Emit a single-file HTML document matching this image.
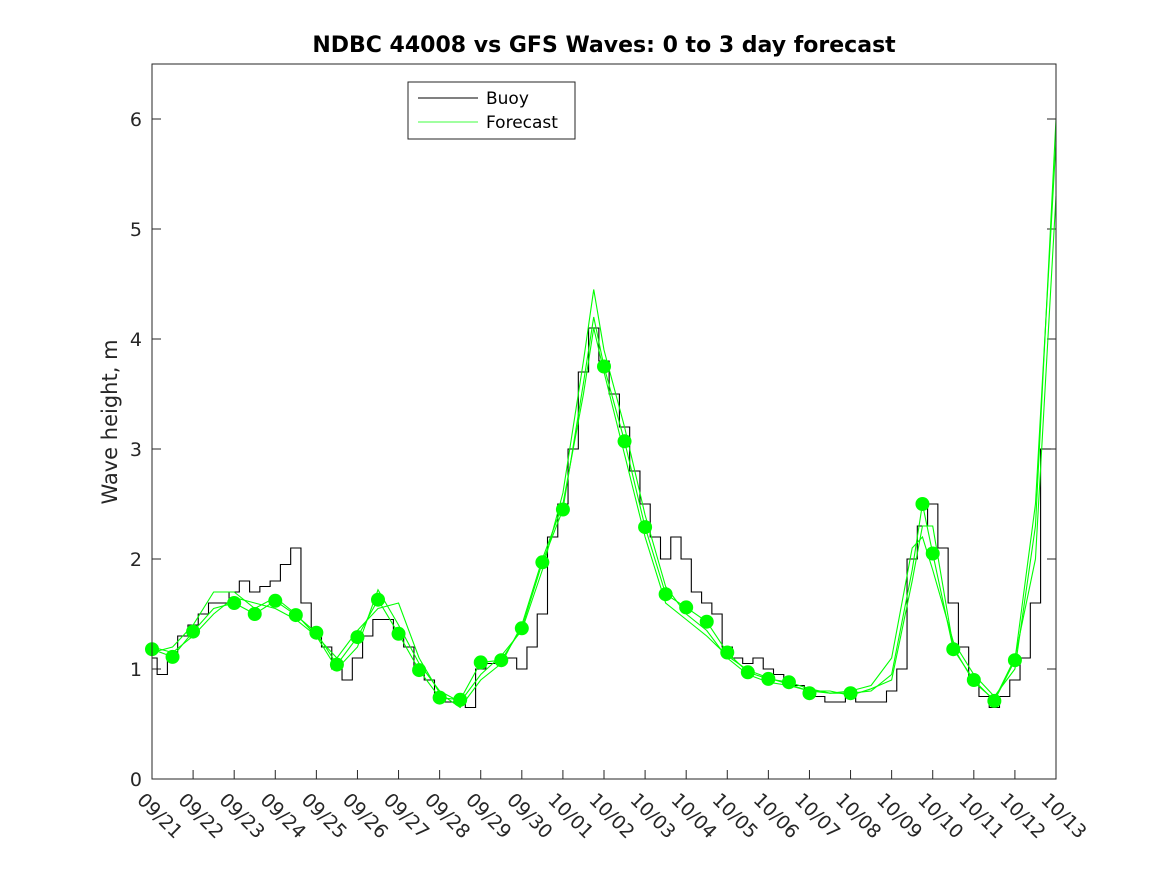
<!DOCTYPE html>
<html><head><meta charset="utf-8"><style>
body{margin:0;background:#fff;}
svg text{font-family:"DejaVu Sans","Liberation Sans",sans-serif;}
</style></head><body>
<svg id="c" width="1167" height="875" xmlns="http://www.w3.org/2000/svg">
<rect width="1167" height="875" fill="#fff"/>
<text x="604" y="52" text-anchor="middle" font-size="22" font-weight="bold" fill="#000">NDBC 44008 vs GFS Waves: 0 to 3 day forecast</text>
<text transform="translate(117,422) rotate(-90)" text-anchor="middle" font-size="21" fill="#262626">Wave height, m</text>
<g id="plot"></g>
<rect x="152" y="64" width="904" height="715" fill="none" stroke="#262626" stroke-width="1"/>
<g>
<rect x="408" y="82" width="167" height="57" fill="#fff" stroke="#262626"/>
<line x1="418" y1="98" x2="478" y2="98" stroke="#000"/>
<text x="486" y="104" font-size="17" fill="#000">Buoy</text>
<line x1="418" y1="122" x2="478" y2="122" stroke="#00ff00" stroke-width="0.7"/>
<text x="486" y="128" font-size="17" fill="#000">Forecast</text>
</g>
</svg>
<script>
const xTickLabels=["09/21","09/22","09/23","09/24","09/25","09/26","09/27","09/28","09/29","09/30","10/01","10/02","10/03","10/04","10/05","10/06","10/07","10/08","10/09","10/10","10/11","10/12","10/13"];
const yTicks=[0,1,2,3,4,5,6];
const buoyVals=[1.1,0.95,1.1,1.3, 1.4,1.5,1.6,1.6, 1.7,1.8,1.7,1.75, 1.8,1.95,2.1,1.6, 1.3,1.2,1.0,0.9, 1.1,1.3,1.45,1.45, 1.3,1.2,1.0,0.9, 0.75,0.7,0.7,0.65, 1.0,1.05,1.1,1.1, 1.0,1.2,1.5,2.2, 2.5,3.0,3.7,4.1, 3.8,3.5,3.2,2.8, 2.5,2.2,2.0,2.2, 2.0,1.7,1.6,1.5, 1.2,1.1,1.05,1.1, 1.0,0.95,0.9,0.85, 0.8,0.75,0.7,0.7, 0.75,0.7,0.7,0.7, 0.8,1.0,2.0,2.3, 2.5,2.1,1.6,1.2, 0.9,0.75,0.65,0.75, 0.9,1.1,1.6,3.0];
const dotDays=[0,0.5,1,2,2.5,3,3.5,4,4.5,5,5.5,6,6.5,7,7.5,8,8.5,9,9.5,10,11,11.5,12,12.5,13,13.5,14,14.5,15,15.5,16,17,18.75,19,19.5,20,20.5,21];
const dotVals=[1.18,1.11,1.34,1.6,1.5,1.62,1.49,1.33,1.04,1.29,1.63,1.32,0.99,0.74,0.72,1.06,1.08,1.37,1.97,2.45,3.75,3.07,2.29,1.68,1.56,1.43,1.15,0.97,0.91,0.88,0.78,0.78,2.5,2.05,1.18,0.9,0.71,1.08];
const fcDays=[0,0.5,1,1.5,2,2.5,3,3.5,4,4.5,5,5.5,6,6.5,7,7.5,8,8.5,9,9.5,10,10.5,10.75,11,11.5,12,12.5,13,13.5,14,14.5,15,15.5,16,16.5,17,17.5,18,18.5,18.75,19,19.5,20,20.5,21,21.5,22];
const fcA=[1.18,1.11,1.34,1.55,1.6,1.5,1.62,1.49,1.33,1.04,1.29,1.63,1.32,0.99,0.74,0.72,1.06,1.08,1.37,1.97,2.45,3.6,4.2,3.75,3.07,2.29,1.68,1.56,1.43,1.15,0.97,0.91,0.88,0.82,0.78,0.78,0.8,0.95,1.9,2.5,2.05,1.18,0.9,0.71,1.08,2.5,5.8];
const fcB=[1.15,1.2,1.4,1.7,1.7,1.55,1.65,1.5,1.3,1.0,1.2,1.72,1.4,1.05,0.8,0.7,0.95,1.12,1.35,1.9,2.6,3.8,4.45,3.9,3.2,2.4,1.75,1.5,1.35,1.1,0.95,0.88,0.85,0.8,0.78,0.8,0.85,1.1,2.1,2.2,1.9,1.25,0.95,0.75,1.0,2.3,6.0];
const fcC=[1.2,1.15,1.3,1.5,1.65,1.6,1.55,1.45,1.3,1.1,1.35,1.55,1.6,1.1,0.78,0.65,0.9,1.05,1.4,2.0,2.5,3.5,4.1,3.7,2.95,2.2,1.6,1.45,1.3,1.12,0.99,0.92,0.86,0.8,0.8,0.76,0.82,0.9,1.8,2.3,2.3,1.2,0.88,0.72,1.1,2.0,5.3];
const NS="http://www.w3.org/2000/svg";
const X0=152,X1=1056,Y0=779,Y1=64,YMAX=6.5,NDAYS=22;
function sx(d){return X0+(X1-X0)*d/NDAYS;}
function sy(v){return Y0-(Y0-Y1)*v/YMAX;}
const g=document.getElementById('plot');
function mk(t,a){const e=document.createElementNS(NS,t);for(const k in a)e.setAttribute(k,a[k]);g.appendChild(e);return e;}
yTicks.forEach(v=>{
 const l=mk('line',{x1:X0,x2:X0+9,y1:sy(v),y2:sy(v),stroke:'#262626'});
 
 
 const r=mk('line',{x1:X1-9,x2:X1,y1:sy(v),y2:sy(v),stroke:'#262626'});
 
 
 const t=mk('text',{x:X0-10,y:sy(v)+7,'text-anchor':'end','font-size':19,fill:'#262626'});
 t.textContent=v;
 
 
});
xTickLabels.forEach((s,i)=>{
 const x=sx(i);
 const l=mk('line',{x1:x,x2:x,y1:Y0,y2:Y0-9,stroke:'#262626'});
 
 
 const t=mk('text',{x:0,y:0,'font-size':19,fill:'#262626',transform:`translate(${x-16},${Y0+22}) rotate(45)`});
 t.textContent=s;
 
 
});
let p='';
buoyVals.forEach((v,i)=>{const x0=sx(Math.max(0,(i-0.5)/4)),x1=sx((i+0.5)/4);p+=(i?'L':'M')+x0+','+sy(v)+'L'+x1+','+sy(v);});
const bl=mk('path',{d:p,fill:'none',stroke:'#000','stroke-width':1.1});


[fcA,fcB,fcC].forEach((arr,k)=>{
 const d=arr.map((v,i)=>(i?'L':'M')+sx(fcDays[i])+','+sy(v)).join('');
 const l=mk('path',{d:d,fill:'none',stroke:'#00ff00','stroke-width':1.1});
 
 
});
dotVals.forEach((v,i)=>{
 const c=mk('circle',{cx:sx(dotDays[i]),cy:sy(v),r:7,fill:'#00ff00'});
 
 
});
</script>
</body></html>
